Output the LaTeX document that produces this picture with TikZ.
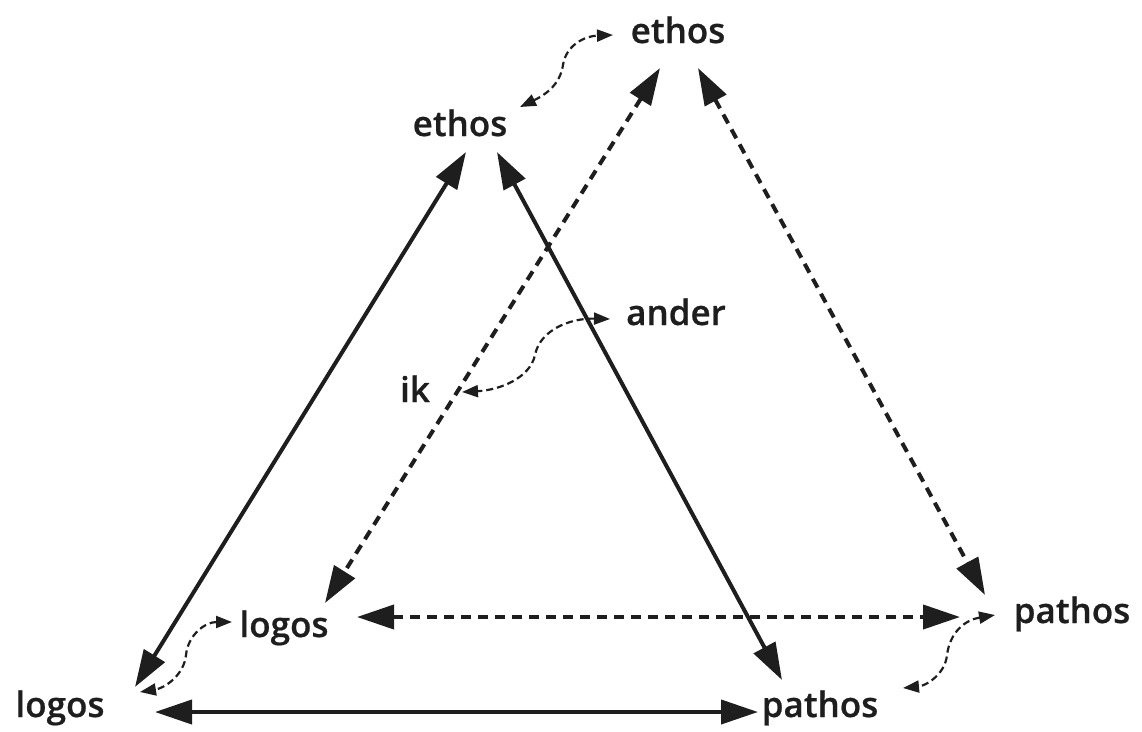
\documentclass[tikz,border=0pt]{standalone}
\usepackage{fontspec}
\setmainfont{Open Sans}
\IfFontExistsTF{Open Sans Semibold}{\newfontfamily\lblfont{Open Sans Semibold}[FakeBold=0.6]}{\newcommand\lblfont{\bfseries}}
\usetikzlibrary{arrows.meta,calc}
\definecolor{ink}{HTML}{1E1E1E}
\begin{document}
\begin{tikzpicture}[x=1pt,y=-1pt,
  lbl/.style={inner sep=0pt,anchor=base,text=ink,font=\lblfont\fontsize{35}{40}\selectfont},
  solidarr/.style={draw=ink,line width=4pt,{Triangle[length=37pt,width=24pt]}-{Triangle[length=37pt,width=24pt]}},
  dasharr/.style={draw=ink,line width=4pt,dash pattern=on 10pt off 7pt,{Triangle[length=37pt,width=24pt]}-{Triangle[length=37pt,width=24pt]}},
  wavearr/.style={draw=ink,line width=2.2pt,dash pattern=on 7pt off 4pt,{Triangle[length=16pt,width=12pt]}-{Triangle[length=16pt,width=12pt]}}]
\useasboundingbox (0,0) rectangle (1142,731);
\node[lbl] (E1) at (678,43) {ethos};
\node[lbl] (E2) at (460,136) {ethos};
\node[lbl] (A) at (676,325) {ander};
\node[lbl] (I) at (415,402) {ik};
\node[lbl] (L2) at (284,637) {logos};
\node[lbl] (P2) at (1072,623) {pathos};
\node[lbl] (L1) at (60,717) {logos};
\node[lbl] (P1) at (820,717) {pathos};
% solid
\draw[solidarr] ($(E2.base)+(6,16)$) -- ($(L1.base)+(75,-30)$);
\draw[solidarr] ($(E2.base)+(37,16)$) -- ($(P1.base)+(-38,-37)$);
\draw[solidarr] ($(L1.base)+(95,-5)$) -- ($(P1.base)+(-62,-5)$);
% dashed
\draw[dasharr] ($(E1.base)+(-18,25)$) -- ($(L2.base)+(41,-34)$);
\draw[dasharr] ($(E1.base)+(20,25)$) -- ($(P2.base)+(-87,-28)$);
\draw[dasharr] ($(L2.base)+(73,-20)$) -- ($(P2.base)+(-112,-6)$);
% wavy
\draw[wavearr] ($(E2.base)+(60,-29)$) .. controls (545,95) and (560,85) .. (563,65) .. controls (566,45) and (585,36) .. ($(E1.base)+(-65,-8)$);
\draw[wavearr] ($(A.base)+(-66,-6)$) .. controls (570,318) and (540,330) .. (535,355) .. controls (530,378) and (500,390) .. ($(I.base)+(47,-10)$);
\draw[wavearr] ($(L2.base)+(-52,-15)$) .. controls (205,622) and (188,635) .. (186,655) .. controls (184,675) and (165,688) .. ($(L1.base)+(80,-25)$);
\draw[wavearr] ($(P2.base)+(-77,-8)$) .. controls (965,620) and (950,632) .. (947,655) .. controls (945,675) and (925,686) .. ($(P1.base)+(83,-29)$);
\end{tikzpicture}
\end{document}
